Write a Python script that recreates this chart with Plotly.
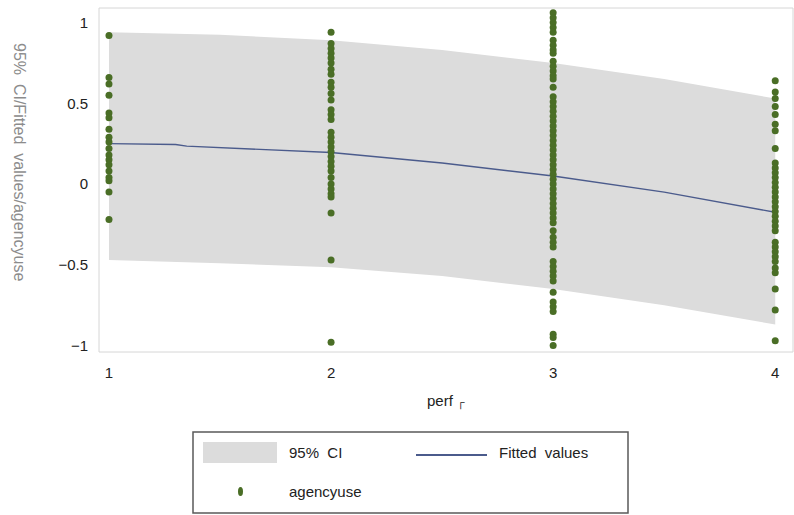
import plotly.graph_objects as go

# --- data -------------------------------------------------------------
perf_levels = [1, 2, 3, 4]

use_perf1 = [0.92, 0.66, 0.62, 0.55, 0.44, 0.41, 0.34, 0.29, 0.26, 0.22,
             0.18, 0.15, 0.12, 0.08, 0.04, 0.02, -0.05, -0.22]
use_perf2 = [0.94, 0.87, 0.84, 0.81, 0.78, 0.75, 0.71, 0.68, 0.63, 0.60,
             0.56, 0.52, 0.46, 0.43, 0.40, 0.32, 0.29, 0.26, 0.23, 0.20,
             0.17, 0.14, 0.11, 0.08, 0.04, 0.00, -0.03, -0.06, -0.08,
             -0.18, -0.47, -0.98]
use_perf3 = [1.06, 1.03, 1.00, 0.97, 0.94, 0.89, 0.86, 0.83, 0.81, 0.76,
             0.73, 0.70, 0.67, 0.65, 0.60, 0.54, 0.51, 0.48, 0.45, 0.42,
             0.39, 0.36, 0.33, 0.30, 0.27, 0.24, 0.21, 0.18, 0.15, 0.12,
             0.09, 0.06, 0.03, 0.00, -0.03, -0.06, -0.09, -0.12, -0.15,
             -0.18, -0.21, -0.24, -0.29, -0.33, -0.36, -0.39, -0.48, -0.51,
             -0.54, -0.57, -0.60, -0.67, -0.73, -0.76, -0.79, -0.93, -0.95,
             -1.00]
use_perf4 = [0.64, 0.57, 0.53, 0.48, 0.43, 0.37, 0.33, 0.22, 0.13, 0.10,
             0.07, 0.04, 0.01, -0.02, -0.05, -0.08, -0.11, -0.14, -0.17,
             -0.20, -0.23, -0.26, -0.29, -0.36, -0.39, -0.42, -0.45, -0.48,
             -0.52, -0.55, -0.65, -0.78, -0.97]

ci_x = [1, 1.5, 2, 2.5, 3, 3.5, 4]
ci_upper = [0.94, 0.925, 0.89, 0.83, 0.75, 0.65, 0.53]
ci_lower = [-0.47, -0.49, -0.515, -0.57, -0.65, -0.75, -0.87]

fit_x = [1, 1.3, 1.35, 2, 2.5, 3, 3.5, 4]
fit_y = [0.25, 0.245, 0.235, 0.195, 0.13, 0.05, -0.05, -0.175]

x_ticks = [1, 2, 3, 4]
y_ticks = [-1, -0.5, 0, 0.5, 1]
y_ticktext = ["\u22121", "\u22120.5", "0", "0.5", "1"]

# --- styles -----------------------------------------------------------
CI_FILL = "#dcdcdc"
FIT_COLOR = "#4b5b8c"
DOT_COLOR = "#4a6e26"
FONT = "Liberation Sans, Arial, sans-serif"

W, H = 794, 515
L, R, T, B = 99, 1, 8, 163
PW, PH = W - L - R, H - T - B


def px(x):
    return (x - L) / PW


def py(y):
    return (H - B - y) / PH


fig = go.Figure()

# confidence band
fig.add_trace(go.Scatter(
    x=ci_x + ci_x[::-1],
    y=ci_upper + ci_lower[::-1],
    fill="toself", fillcolor=CI_FILL,
    line=dict(width=0), mode="lines",
    hoverinfo="skip", showlegend=False,
))

# fitted line
fig.add_trace(go.Scatter(
    x=fit_x, y=fit_y, mode="lines",
    line=dict(color=FIT_COLOR, width=1.4),
    showlegend=False,
))

# observations
groups = [use_perf1, use_perf2, use_perf3, use_perf4]
obs_x, obs_y = [], []
for lvl, vals in zip(perf_levels, groups):
    obs_x += [lvl] * len(vals)
    obs_y += vals
fig.add_trace(go.Scatter(
    x=obs_x, y=obs_y, mode="markers",
    marker=dict(color=DOT_COLOR, size=7, symbol="circle",
                line=dict(width=0)),
    showlegend=False,
))

shapes = [
    # plot region frame
    dict(type="rect", xref="paper", yref="paper", x0=0, x1=1, y0=0, y1=1,
         line=dict(color="#d6d6d6", width=1), layer="below"),
    # legend box
    dict(type="rect", xref="paper", yref="paper",
         x0=px(193), x1=px(628), y0=py(513), y1=py(432),
         line=dict(color="#5a5a5a", width=1.5), fillcolor="white"),
    dict(type="rect", xref="paper", yref="paper",
         x0=px(203), x1=px(277), y0=py(463), y1=py(442),
         line=dict(width=0), fillcolor=CI_FILL),
    dict(type="line", xref="paper", yref="paper",
         x0=px(416), x1=px(487), y0=py(455), y1=py(455),
         line=dict(color=FIT_COLOR, width=2)),
    dict(type="circle", xref="paper", yref="paper",
         x0=px(238), x1=px(243), y0=py(496), y1=py(487),
         line=dict(width=0), fillcolor=DOT_COLOR),
]


def label(text, x, y, size=15, color="#222", xanchor="left", angle=0):
    return dict(text=text, xref="paper", yref="paper", x=px(x), y=py(y),
                xanchor=xanchor, yanchor="middle", textangle=angle,
                showarrow=False,
                font=dict(family=FONT, size=size, color=color))


annotations = [
    label("95%\u00a0\u00a0CI/Fitted\u00a0\u00a0values/agencyuse", 20, 162,
          size=16, color="#8c8c8c", xanchor="center", angle=90),
    label("perf <span style='font-size:11px'>\u250c</span>", 446, 401,
          xanchor="center"),
    label("95%\u00a0\u00a0CI", 287, 452),
    label("Fitted\u00a0\u00a0values", 497, 452),
    label("agencyuse", 287, 491),
]

fig.update_layout(
    width=W, height=H,
    margin=dict(l=L, r=R, t=T, b=B),
    paper_bgcolor="white", plot_bgcolor="white",
    showlegend=False,
    font=dict(family=FONT, size=15, color="#222"),
    xaxis=dict(range=[0.955, 4.08], tickvals=x_ticks,
               showgrid=False, zeroline=False, showline=False,
               ticks="", ticklabelstandoff=10,
               tickfont=dict(size=15, color="#222")),
    yaxis=dict(range=[-1.04, 1.09], tickvals=y_ticks, ticktext=y_ticktext,
               showgrid=False, zeroline=False, showline=False,
               ticks="", ticklabelstandoff=10,
               tickfont=dict(size=15, color="#222")),
    shapes=shapes,
    annotations=annotations,
)

fig.write_html("out.html")
